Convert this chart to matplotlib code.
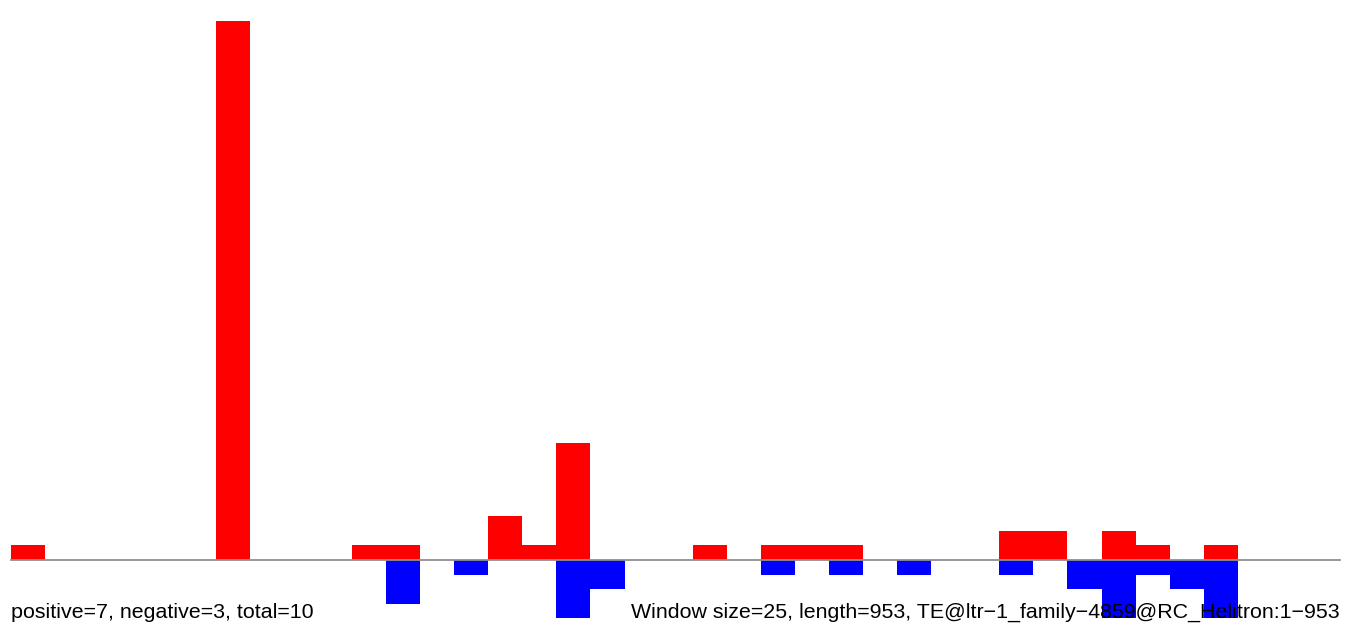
#!/usr/bin/env python3
"""Window-based positive/negative counts along a TE sequence."""

import numpy as np
import matplotlib
matplotlib.use("Agg")
import matplotlib.pyplot as plt

plt.rcParams["font.family"] = ["Liberation Sans", "DejaVu Sans"]

window_size = 25
seq_length = 953
te_name = "TE@ltr\u22121_family\u22124859@RC_Helitron:1\u2212953"

# counts per 25 bp window (39 windows)
positive = [1, 0, 0, 0, 0, 0, 37, 0, 0, 0,
            1, 1, 0, 0, 3, 1, 8, 0, 0, 0,
            1, 0, 1, 1, 1, 0, 0, 0, 0, 2,
            2, 0, 2, 1, 0, 1, 0, 0, 0]
negative = [0, 0, 0, 0, 0, 0, 0, 0, 0, 0,
            0, 3, 0, 1, 0, 0, 4, 2, 0, 0,
            0, 0, 1, 0, 1, 0, 1, 0, 0, 1,
            0, 2, 4, 1, 2, 4, 0, 0, 0]
n_pos_reads = 7
n_neg_reads = 3


def main() -> None:
    fig = plt.figure(figsize=(13.52, 6.30), dpi=100)
    ax = fig.add_axes([0, 0, 1, 1])

    n = len(positive)
    x = np.arange(n)
    ax.bar(x, positive, width=1.0, align="edge", color="#ff0000", linewidth=0)
    ax.bar(x, [-v for v in negative], width=1.0, align="edge", color="#0000ff", linewidth=0)
    ax.plot([0, n], [0, 0], color="#909090", lw=1.3, zorder=3)

    ax.set_xlim(-0.33, 39.35)
    ax.set_ylim(-4.80, 38.43)
    ax.axis("off")

    fig.text(11 / 1352, 1 - 618 / 630,
             f"positive={n_pos_reads}, negative={n_neg_reads}, total={n_pos_reads + n_neg_reads}",
             ha="left", va="baseline", fontsize=15.4, color="black")
    fig.text(1340 / 1352, 1 - 618 / 630,
             f"Window size={window_size}, length={seq_length}, {te_name}",
             ha="right", va="baseline", fontsize=15.4, color="black", zorder=10)

    fig.savefig("out.png", dpi=100)
    plt.close(fig)


if __name__ == "__main__":
    main()
